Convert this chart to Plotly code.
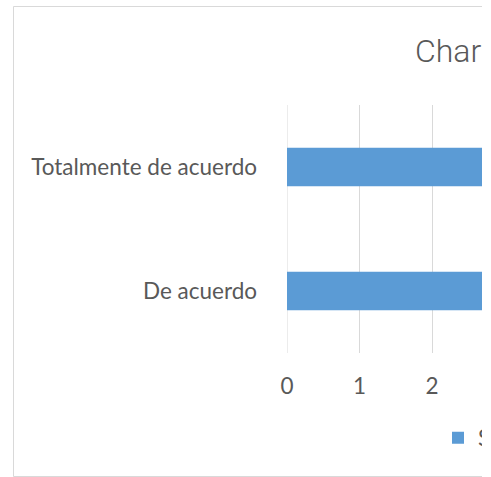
import plotly.graph_objects as go

categories = ["De acuerdo", "Totalmente de acuerdo"]
values = [4, 4]
series_name = "Series1"
tick_values = [0, 1, 2, 3, 4, 5]
chart_title = "Chart Title"

W, H = 482, 477
left, right, top, bottom = 287, 482, 105, 353
grid = "#d9d9d9"
txt = "#595959"
bar_col = "#5b9bd5"
px_per_unit = 72.5

pw = right - left
ph = bottom - top

fig = go.Figure(go.Bar(
    x=values, y=categories, orientation="h", name=series_name,
    marker=dict(color=bar_col, line=dict(width=0)),
))

fig.update_layout(
    width=W, height=H,
    margin=dict(l=left, r=W - right, t=top, b=H - bottom, pad=0, autoexpand=False),
    paper_bgcolor="white", plot_bgcolor="white",
    font=dict(family="Lato", color=txt, size=22.5),
    bargap=0.69,
    title=dict(text=chart_title, font=dict(size=32, color=txt, family="Roboto", weight=300),
               xref="container", yref="container", x=415 / W, xanchor="left",
               y=1 - 51 / H, yanchor="middle"),
    showlegend=True,
    legend=dict(orientation="h", x=(438 - left) / pw, xanchor="left",
                y=(bottom - 438) / ph, yanchor="middle", itemwidth=30,
                font=dict(size=22.5, color=txt), bgcolor="rgba(0,0,0,0)"),
    xaxis=dict(range=[0, pw / px_per_unit], tickvals=tick_values, showgrid=True,
               gridcolor=grid, gridwidth=1, zeroline=False, showline=False,
               ticks="", ticklabelstandoff=17, fixedrange=True),
    yaxis=dict(showgrid=False, zeroline=False, showline=False, ticks="",
               ticklabelstandoff=29, fixedrange=True),
    shapes=[dict(type="line", xref="x", yref="paper", x0=0, x1=0, y0=0, y1=1,
                 line=dict(color=grid, width=1), layer="below"),
            dict(type="rect", xref="paper", yref="paper",
                 x0=(13.5 - left) / pw, x1=2,
                 y0=(bottom - 476.5) / ph, y1=(bottom - 6.5) / ph,
                 line=dict(color=grid, width=1), fillcolor="rgba(0,0,0,0)",
                 layer="below")],
)

fig.write_html("out.html", config={"displayModeBar": False},
               post_script="document.body.style.margin='0';document.body.style.overflow='hidden';")
